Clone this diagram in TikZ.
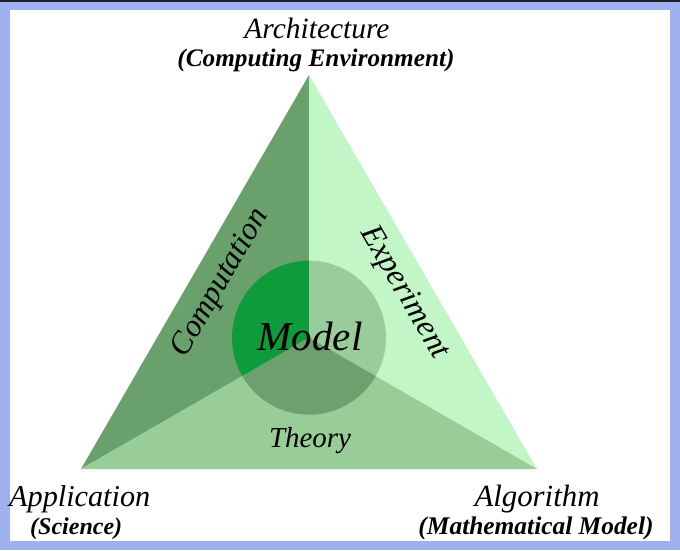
\documentclass[tikz,border=0pt]{standalone}
\usepackage{graphicx}
\usepackage{fontspec}
\setmainfont{Liberation Serif}
\definecolor{frameblue}{RGB}{158,176,240}
\definecolor{topdark}{RGB}{30,32,44}
\definecolor{leftgreen}{RGB}{106,160,108}
\definecolor{rightgreen}{RGB}{194,246,198}
\definecolor{bottomgreen}{RGB}{152,205,152}
\definecolor{circleleft}{RGB}{14,155,60}
\definecolor{circleright}{RGB}{152,204,152}
\definecolor{circlebottom}{RGB}{108,160,110}
\newcommand{\fitw}[2]{\resizebox{#1pt}{!}{#2}}
\begin{document}
\begin{tikzpicture}[x=1pt,y=-1pt,
  lbl/.style={inner sep=0pt, text=black, font=\itshape},
  sublbl/.style={inner sep=0pt, text=black, font=\bfseries\itshape}]
\useasboundingbox (0,0) rectangle (680,550);
\fill[frameblue] (0,0) rectangle (680,550);
\fill[white] (10,10) rectangle (670,541);
\fill[topdark] (0,0) rectangle (680,2);
% triangle corners and centre
\coordinate (A) at (309,75);
\coordinate (L) at (81,469);
\coordinate (R) at (537,469);
\coordinate (C) at (309,337.67);
\fill[leftgreen] (A) -- (C) -- (L) -- cycle;
\fill[rightgreen] (A) -- (R) -- (C) -- cycle;
\fill[bottomgreen] (L) -- (C) -- (R) -- cycle;
\begin{scope}
  \clip (A) -- (C) -- (L) -- cycle;
  \fill[circleleft] (C) circle[radius=77pt];
\end{scope}
\begin{scope}
  \clip (A) -- (R) -- (C) -- cycle;
  \fill[circleright] (C) circle[radius=77pt];
\end{scope}
\begin{scope}
  \clip (L) -- (C) -- (R) -- cycle;
  \fill[circlebottom] (C) circle[radius=77pt];
\end{scope}
% labels
\node[lbl, anchor=base] (arch) at (317,38) {\fitw{145}{Architecture}};
\node[sublbl, anchor=base] (archsub) at (316,66) {\fitw{277}{(Computing Environment)}};
\node[lbl, anchor=base west] (app) at (9,506) {\fitw{141}{Application}};
\node[sublbl, anchor=base west] (appsub) at (30,534) {\fitw{92}{(Science)}};
\node[lbl, anchor=base] (alg) at (537,506) {\fitw{125}{Algorithm}};
\node[sublbl, anchor=base] (algsub) at (536,534) {\fitw{235}{(Mathematical Model)}};
\node[lbl, rotate=60] (comp) at (221,283) {\fitw{165}{Computation}};
\node[lbl, rotate=-60] (expt) at (404,293) {\fitw{148}{Experiment}};
\node[lbl, anchor=base] (model) at (310,350) {\fitw{105}{Model}};
\node[lbl, anchor=base] (theory) at (310,447) {\fitw{82}{Theory}};
\end{tikzpicture}
\end{document}
